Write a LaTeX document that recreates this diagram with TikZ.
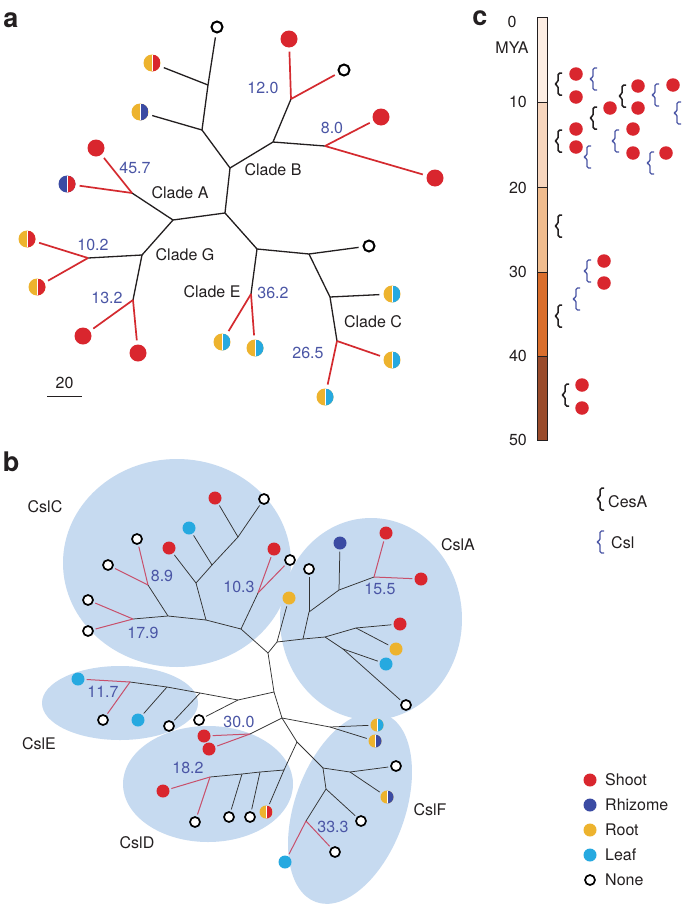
\documentclass[tikz,border=0pt]{standalone}
\usepackage{fontspec}
\setmainfont{TeX Gyre Heros}
\definecolor{cShoot}{HTML}{D9262E}
\definecolor{cRhiz}{HTML}{3B4BA3}
\definecolor{cRoot}{HTML}{EDB32E}
\definecolor{cLeaf}{HTML}{26A9E0}
\definecolor{cNum}{HTML}{4A55A5}
\definecolor{cRedA}{HTML}{D42A2F}
\definecolor{cRedB}{HTML}{C8506B}
\definecolor{cTxt}{HTML}{231F20}
\definecolor{cEll}{HTML}{C6DAF0}
\definecolor{cBarA}{HTML}{FCEDE3}
\definecolor{cBarB}{HTML}{F7D6BE}
\definecolor{cBarC}{HTML}{F0BC8E}
\definecolor{cBarD}{HTML}{DA6E2C}
\definecolor{cBarE}{HTML}{9A4B2B}
\tikzset{
  dotA/.style={circle, inner sep=0pt, minimum size=17pt},
  dotB/.style={circle, inner sep=0pt, minimum size=13pt},
  dotC/.style={circle, inner sep=0pt, minimum size=13.5pt, fill=cShoot},
  shoot/.style={fill=cShoot}, rhiz/.style={fill=cRhiz},
  root/.style={fill=cRoot}, leafc/.style={fill=cLeaf},
  halfd/.style 2 args={fill=#1, path picture={\fill[#2] (path picture bounding box.north) rectangle (path picture bounding box.south east);
      \draw[white, line width=0.5pt] (path picture bounding box.north) -- (path picture bounding box.south);}},
  noneA/.style={circle, inner sep=0pt, minimum size=11pt, draw=black, line width=2pt, fill=white},
  noneB/.style={circle, inner sep=0pt, minimum size=10pt, draw=black, line width=1.7pt, fill=white},
  lab/.style={inner sep=0pt, text=cTxt, font=\fontsize{16}{19}\selectfont},
  num/.style={lab, text=cNum},
  panlab/.style={inner sep=0pt, text=cTxt, font=\fontsize{27}{27}\selectfont\bfseries},
  edA/.style={line width=1.3pt, draw=cTxt},
  redA/.style={line width=1.7pt, draw=cRedA},
  edB/.style={line width=0.75pt, draw=black!80},
  redB/.style={line width=1pt, draw=cRedB},
  gapA/.style={shorten >=4pt},
  gapB/.style={shorten >=2pt},
  cesab/.pic={\draw[line width=1.5pt, draw=cTxt, rounded corners=1.8pt] (4,-11) -- (0,-11) -- (0,-1.5) -- (-4,0) -- (0,1.5) -- (0,11) -- (4,11);},
  cslb/.pic={\draw[line width=1.3pt, draw=cNum, rounded corners=1.5pt] (4,-11) -- (0,-11) -- (0,-1.5) -- (-4,0) -- (0,1.5) -- (0,11) -- (4,11);}
}
\begin{document}
\begin{tikzpicture}[x=1pt,y=-1pt]
\useasboundingbox (0,0) rectangle (685,905);
\fill[white] (0,0) rectangle (685,905);

% ================= panel a =================
\node[panlab] (pa) at (11,20) {a};
\coordinate (aT1) at (208,85);
\coordinate (aT2) at (202,130);
\coordinate (aB0) at (230,168);
\coordinate (aB1) at (273,142);
\coordinate (aB2) at (291,99);
\coordinate (aB3) at (325,146);
\coordinate (aR) at (225,213);
\coordinate (aAG) at (173,220);
\coordinate (aA) at (132,193);
\coordinate (aG) at (142,255);
\coordinate (aG1) at (88,258);
\coordinate (aG2) at (133,300);
\coordinate (aEC) at (257,249);
\coordinate (aE) at (251,294);
\coordinate (aC0) at (309,254);
\coordinate (aC1) at (330,297);
\coordinate (aC2) at (337,341);

\node[noneA] (aL1) at (217,27) {};
\node[dotA, halfd={cRoot}{cShoot}] (aL2) at (152,63) {};
\node[dotA, halfd={cRoot}{cRhiz}] (aL3) at (140,112) {};
\node[dotA, shoot] (aL4) at (289,39) {};
\node[noneA] (aL5) at (344,70) {};
\node[dotA, shoot] (aL6) at (381,117) {};
\node[dotA, shoot] (aL7) at (435,178) {};
\node[dotA, shoot] (aL8) at (96,148) {};
\node[dotA, halfd={cRhiz}{cShoot}] (aL9) at (67,184) {};
\node[dotA, halfd={cRoot}{cShoot}] (aL10) at (27,239) {};
\node[dotA, halfd={cRoot}{cShoot}] (aL11) at (37,287) {};
\node[dotA, shoot] (aL12) at (83,336) {};
\node[dotA, shoot] (aL13) at (138,353) {};
\node[dotA, halfd={cRoot}{cLeaf}] (aL14) at (222,342) {};
\node[dotA, halfd={cRoot}{cLeaf}] (aL15) at (255,348) {};
\node[noneA] (aL16) at (369,246) {};
\node[dotA, halfd={cRoot}{cLeaf}] (aL17) at (392,294) {};
\node[dotA, halfd={cRoot}{cLeaf}] (aL18) at (392,360) {};
\node[dotA, halfd={cRoot}{cLeaf}] (aL19) at (325,397) {};

\draw[edA, gapA] (aT1) -- (aL1);
\draw[edA, gapA] (aT1) -- (aL2);
\draw[edA, gapA] (aT2) -- (aL3);
\draw[edA, gapA] (aC0) -- (aL16);
\draw[edA, gapA] (aC1) -- (aL17);
\draw[edA, line join=round] (aT1) -- (aT2) -- (aB0) -- (aR) -- (aAG) -- (aA);
\draw[edA] (aB0) -- (aB1) -- (aB2);
\draw[edA] (aB1) -- (aB3);
\draw[edA] (aAG) -- (aG) -- (aG1);
\draw[edA] (aG) -- (aG2);
\draw[edA] (aR) -- (aEC) -- (aC0) -- (aC1) -- (aC2);
\draw[edA] (aEC) -- (aE);
\draw[redA, gapA] (aB2) -- (aL4);
\draw[redA, gapA] (aB2) -- (aL5);
\draw[redA, gapA] (aB3) -- (aL6);
\draw[redA, gapA] (aB3) -- (aL7);
\draw[redA, gapA] (aA) -- (aL8);
\draw[redA, gapA] (aA) -- (aL9);
\draw[redA, gapA] (aG1) -- (aL10);
\draw[redA, gapA] (aG1) -- (aL11);
\draw[redA, gapA] (aG2) -- (aL12);
\draw[redA, gapA] (aG2) -- (aL13);
\draw[redA, gapA] (aE) -- (aL14);
\draw[redA, gapA] (aE) -- (aL15);
\draw[redA, gapA] (aC2) -- (aL18);
\draw[redA, gapA] (aC2) -- (aL19);

\node[num] (an1) at (135,168) {45.7};
\node[lab] (ac1) at (180,193) {Clade A};
\node[num] (an2) at (263,88) {12.0};
\node[num] (an3) at (332,128) {8.0};
\node[lab] (ac2) at (273,170) {Clade B};
\node[num] (an4) at (93,245) {10.2};
\node[lab] (ac3) at (185,255) {Clade G};
\node[num] (an5) at (107,298) {13.2};
\node[lab] (ac4) at (212,292) {Clade E};
\node[num] (an6) at (273,293) {36.2};
\node[lab] (ac5) at (373,322) {Clade C};
\node[num] (an7) at (308,353) {26.5};

\coordinate (sb1) at (47,396);
\coordinate (sb2) at (82,396);
\draw[line width=1pt, cTxt] (sb1) -- (sb2);
\node[lab] (sbl) at (64.5,383) {20};

% ================= panel c =================
\node[panlab] (pc) at (480,18) {c};
\fill[cBarA] (537,17) rectangle (547,102);
\fill[cBarB] (537,102) rectangle (547,187);
\fill[cBarC] (537,187) rectangle (547,272);
\fill[cBarD] (537,272) rectangle (547,356);
\fill[cBarE] (537,356) rectangle (547,440);
\draw[line width=0.8pt, cTxt] (537,102) -- (547,102) (537,187) -- (547,187)
  (537,272) -- (547,272) (537,356) -- (547,356);
\draw[line width=0.9pt, cTxt] (537,17) rectangle (547,440);
\node[lab] (t0) at (512,22) {0};
\node[lab] (tmya) at (512,48) {MYA};
\node[lab, anchor=east] (t10) at (527,102) {10};
\node[lab, anchor=east] (t20) at (527,188) {20};
\node[lab, anchor=east] (t30) at (527,272) {30};
\node[lab, anchor=east] (t40) at (527,356) {40};
\node[lab, anchor=east] (t50) at (527,440) {50};

\pic at (558,84) {cesab};
\pic at (593,118) {cesab};
\pic at (622,96) {cesab};
\pic at (558,141) {cesab};
\pic at (558,226) {cesab};
\pic at (558,316) {cesab};
\pic at (565,395) {cesab};
\pic at (593,79) {cslb};
\pic at (655,95) {cslb};
\pic at (677,113) {cslb};
\pic at (587,157) {cslb};
\pic at (615,141) {cslb};
\pic at (650,163) {cslb};
\pic at (587,271) {cslb};
\pic at (576,299) {cslb};

\node[dotC] (c1) at (576,74) {};
\node[dotC] (c2) at (576,97) {};
\node[dotC] (c3) at (610,108) {};
\node[dotC] (c4) at (638,86) {};
\node[dotC] (c5) at (638,108) {};
\node[dotC] (c6) at (673,85) {};
\node[dotC] (c7) at (576,129) {};
\node[dotC] (c8) at (576,147) {};
\node[dotC] (c9) at (633,129) {};
\node[dotC] (c10) at (633,153) {};
\node[dotC] (c11) at (666,153) {};
\node[dotC] (c12) at (604,261) {};
\node[dotC] (c13) at (604,283) {};
\node[dotC] (c14) at (582,385) {};
\node[dotC] (c15) at (582,408) {};

% legend brackets
\pic at (600,499) {cesab};
\node[lab, anchor=west] (lgA) at (608,502) {CesA};
\pic at (600,542) {cslb};
\node[lab, anchor=west] (lgB) at (611,543) {Csl};

% ================= panel b =================
\node[panlab] (pb) at (11,462) {b};
\fill[cEll] (177,563) ellipse [x radius=114pt, y radius=104pt];
\fill[cEll] (371,619) ellipse [x radius=91pt, y radius=101pt];
\fill[cEll] (120,703) ellipse [x radius=78pt, y radius=37pt];
\fill[cEll] (208,784) ellipse [x radius=85pt, y radius=58pt];
\fill[cEll, rotate around={70:(350,808)}] (350,808) ellipse [x radius=100pt, y radius=55pt];

\coordinate (N1) at (238,537);
\coordinate (N2) at (212,565);
\coordinate (N3) at (196,583);
\coordinate (N4) at (206,620);
\coordinate (N5) at (148,585);
\coordinate (N6) at (168,616);
\coordinate (N7) at (133,619);
\coordinate (N8) at (241,629);
\coordinate (N9) at (258,593);
\coordinate (R1) at (268,653);
\coordinate (A5) at (277,642);
\coordinate (A4) at (303,639);
\coordinate (A2) at (309,612);
\coordinate (A1) at (339,590);
\coordinate (A3) at (374,577);
\coordinate (A6) at (325,637);
\coordinate (A7) at (356,628);
\coordinate (A8) at (343,649);
\coordinate (R2) at (274,692);
\coordinate (E1) at (238,700);
\coordinate (E4) at (200,693);
\coordinate (E3) at (167,687);
\coordinate (E2) at (130,682);
\coordinate (R3) at (282,718);
\coordinate (D30) at (250,734);
\coordinate (Fa) at (330,727);
\coordinate (R4) at (297,742);
\coordinate (F2) at (323,768);
\coordinate (F1) at (350,772);
\coordinate (F3) at (326,789);
\coordinate (F4) at (306,821);
\coordinate (Dt) at (284,770);
\coordinate (Dm1) at (260,772);
\coordinate (Dm2) at (242,774);
\coordinate (D1) at (210,777);

\node[dotB, shoot] (bL1) at (215,498) {};
\node[noneB] (bL2) at (264,499) {};
\node[dotB, leafc] (bL3) at (189,528) {};
\node[dotB, shoot] (bL4) at (169,548) {};
\node[noneB] (bL5) at (137,539) {};
\node[noneB] (bL6) at (108,565) {};
\node[noneB] (bL7) at (88,600) {};
\node[noneB] (bL8) at (88,631) {};
\node[dotB, shoot] (bL9) at (274,549) {};
\node[noneB] (bL10) at (290,560) {};
\node[dotB, root] (bL11) at (289,598) {};
\node[noneB] (bL12) at (309,569) {};
\node[dotB, rhiz] (bL13) at (340,543) {};
\node[dotB, shoot] (bL14) at (386,533) {};
\node[dotB, shoot] (bL15) at (421,579) {};
\node[dotB, shoot] (bL16) at (400,624) {};
\node[dotB, root] (bL17) at (396,649) {};
\node[dotB, leafc] (bL18) at (386,664) {};
\node[noneB] (bL19) at (406,705) {};
\node[dotB, leafc] (bL20) at (78,679) {};
\node[noneB] (bL21) at (103,720) {};
\node[dotB, leafc] (bL22) at (138,720) {};
\node[noneB] (bL23) at (169,726) {};
\node[noneB] (bL24) at (199,720) {};
\node[dotB, shoot] (bL25) at (204,736) {};
\node[dotB, shoot] (bL26) at (209,749) {};
\node[dotB, shoot] (bL27) at (163,791) {};
\node[noneB] (bL28) at (195,822) {};
\node[noneB] (bL29) at (229,817) {};
\node[noneB] (bL30) at (250,817) {};
\node[dotB, halfd={cRoot}{cShoot}] (bL31) at (266,812) {};
\node[dotB, halfd={cRoot}{cLeaf}] (bL32) at (377,725) {};
\node[dotB, halfd={cRoot}{cRhiz}] (bL33) at (375,741) {};
\node[noneB] (bL34) at (396,766) {};
\node[dotB, halfd={cRoot}{cRhiz}] (bL35) at (387,797) {};
\node[noneB] (bL36) at (361,821) {};
\node[dotB, leafc] (bL37) at (285,862) {};
\node[noneB] (bL38) at (335,852) {};

% black branches
\draw[edB, gapB] (N1) -- (bL1);
\draw[edB, gapB] (N1) -- (bL2);
\draw[edB, gapB] (N2) -- (bL3);
\draw[edB, gapB] (N3) -- (bL4);
\draw[edB] (N1) -- (N2) -- (N3) -- (N4);
\draw[edB] (N5) -- (N6);
\draw[edB, line join=round] (N7) -- (N6) -- (N4) -- (N8) -- (R1);
\draw[edB] (N9) -- (N8);
\draw[edB] (R1) -- (A5) -- (A4) -- (A2) -- (A1) -- (A3);
\draw[edB, gapB] (A5) -- (bL11);
\draw[edB, gapB] (A2) -- (bL12);
\draw[edB, gapB] (A1) -- (bL13);
\draw[edB] (A4) -- (A6) -- (A7);
\draw[edB, gapB] (A7) -- (bL16);
\draw[edB, gapB] (A7) -- (bL17);
\draw[edB] (A6) -- (A8);
\draw[edB, gapB] (A8) -- (bL18);
\draw[edB, gapB] (A8) -- (bL19);
\draw[edB] (R1) -- (R2) -- (E1) -- (E4) -- (E3) -- (E2);
\draw[edB, gapB] (E1) -- (bL24);
\draw[edB, gapB] (E4) -- (bL23);
\draw[edB, gapB] (E3) -- (bL22);
\draw[edB] (R2) -- (R3) -- (D30);
\draw[edB] (R3) -- (Fa);
\draw[edB, gapB] (Fa) -- (bL32);
\draw[edB, gapB] (Fa) -- (bL33);
\draw[edB] (R3) -- (R4) -- (F2) -- (F1);
\draw[edB, gapB] (F1) -- (bL34);
\draw[edB, gapB] (F1) -- (bL35);
\draw[edB] (F2) -- (F3) -- (F4);
\draw[edB, gapB] (F3) -- (bL36);
\draw[edB] (R4) -- (Dt) -- (Dm1) -- (Dm2) -- (D1);
\draw[edB, gapB] (Dt) -- (bL31);
\draw[edB, gapB] (Dm1) -- (bL30);
\draw[edB, gapB] (Dm2) -- (bL29);
% red branches
\draw[redB, gapB] (N5) -- (bL5);
\draw[redB, gapB] (N5) -- (bL6);
\draw[redB, gapB] (N7) -- (bL7);
\draw[redB, gapB] (N7) -- (bL8);
\draw[redB, gapB] (N9) -- (bL9);
\draw[redB, gapB] (N9) -- (bL10);
\draw[redB, gapB] (A3) -- (bL14);
\draw[redB, gapB] (A3) -- (bL15);
\draw[redB, gapB] (E2) -- (bL20);
\draw[redB, gapB] (E2) -- (bL21);
\draw[redB, gapB] (D30) -- (bL25);
\draw[redB, gapB] (D30) -- (bL26);
\draw[redB, gapB] (D1) -- (bL27);
\draw[redB, gapB] (D1) -- (bL28);
\draw[redB, gapB] (F4) -- (bL37);
\draw[redB, gapB] (F4) -- (bL38);

\node[lab] (bc1) at (45,507) {CslC};
\node[num] (bn1) at (162,576) {8.9};
\node[num] (bn2) at (239,587) {10.3};
\node[num] (bn3) at (143,633) {17.9};
\node[lab] (bc2) at (458,545) {CslA};
\node[num] (bn4) at (380,589) {15.5};
\node[num] (bn5) at (103,692) {11.7};
\node[lab] (bc3) at (39,744) {CslE};
\node[num] (bn6) at (239,722) {30.0};
\node[num] (bn7) at (188,768) {18.2};
\node[lab] (bc4) at (137,843) {CslD};
\node[num] (bn8) at (333,827) {33.3};
\node[lab] (bc5) at (430,810) {CslF};

% legend dots
\node[dotB, shoot] (lg1) at (590,780) {};
\node[lab, anchor=west] (lt1) at (605,780) {Shoot};
\node[dotB, rhiz] (lg2) at (590,805) {};
\node[lab, anchor=west] (lt2) at (605,805) {Rhizome};
\node[dotB, root] (lg3) at (590,830) {};
\node[lab, anchor=west] (lt3) at (605,830) {Root};
\node[dotB, leafc] (lg4) at (590,855) {};
\node[lab, anchor=west] (lt4) at (605,855) {Leaf};
\node[noneB] (lg5) at (590,880) {};
\node[lab, anchor=west] (lt5) at (605,880) {None};
\end{tikzpicture}
\end{document}
